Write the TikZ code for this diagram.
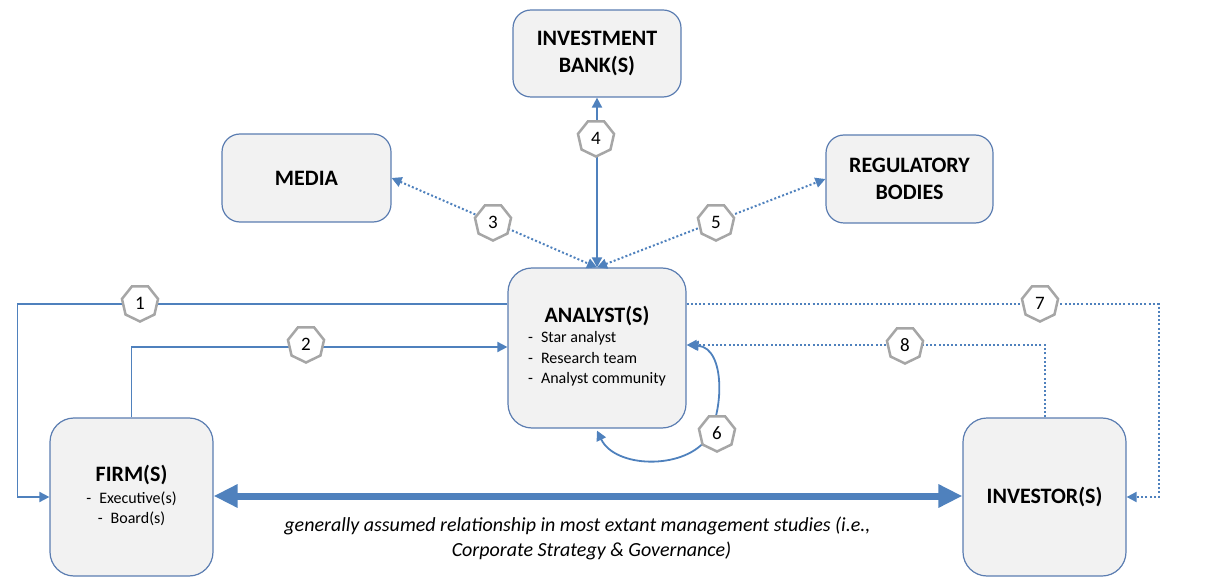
\documentclass[tikz,border=0pt]{standalone}
\usepackage{fontspec}
\setmainfont{Carlito}
\usetikzlibrary{arrows.meta,shapes.geometric,calc}
\definecolor{lineblue}{HTML}{4F81BD}
\definecolor{boxedge}{HTML}{5B7DB1}
\definecolor{boxfill}{HTML}{F2F2F2}
\definecolor{heptgray}{HTML}{A6A6A6}
\begin{document}
\begin{tikzpicture}[x=1pt,y=-1pt,
  box/.style={draw=boxedge,fill=boxfill,rounded corners=18pt,line width=1.2pt,align=center,
    font=\bfseries\fontsize{22}{27}\selectfont,inner sep=0pt},
  conn/.style={draw=lineblue,line width=1.8pt},
  dotconn/.style={draw=lineblue,line width=2pt,dash pattern=on 2pt off 2.2pt},
  hept/.style={regular polygon,regular polygon sides=7,shape border rotate=180,draw=heptgray,
    fill=white,line width=2.5pt,minimum size=37pt,inner sep=0pt,font=\fontsize{19}{19}\selectfont},
  stip/.tip={Triangle[length=10pt,width=10pt]},
  btip/.tip={Triangle[length=24pt,width=22pt]},
  note/.style={font=\itshape\fontsize{20}{22}\selectfont,inner sep=0pt}
]
\useasboundingbox (0,0) rectangle (1226,577);

% boxes
\node[box,minimum width=168pt,minimum height=87pt] (bank) at (597,53.5) {INVESTMENT\\BANK(S)};
\node[box,minimum width=169pt,minimum height=88pt] (media) at (306.5,178) {MEDIA};
\node[box,minimum width=167pt,minimum height=88pt] (reg) at (909.5,179) {REGULATORY\\BODIES};
\node[box,rounded corners=24pt,minimum width=178pt,minimum height=160pt] (analyst) at (597,348)
  {ANALYST(S)\\[2pt]{\normalfont\fontsize{16}{20.5}\selectfont\begin{tabular}{@{}l@{}}-\enspace Star analyst\\-\enspace Research team\\-\enspace Analyst community\end{tabular}}};
\node[box,rounded corners=24pt,minimum width=163pt,minimum height=158pt] (firm) at (131.5,497)
  {FIRM(S)\\[4pt]{\normalfont\fontsize{16}{20}\selectfont\begin{tabular}{@{}c@{}}-\enspace Executive(s)\\-\enspace Board(s)\end{tabular}}};
\node[box,rounded corners=24pt,minimum width=163pt,minimum height=158pt] (investor) at (1044.5,497) {INVESTOR(S)};

% connectors
\draw[conn,-stip] ($(analyst.west)+(0,-44)$) -| ($(firm.west)+(-32,0)$) -- (firm.west);
\draw[conn,-stip] (firm.north) |- ($(analyst.west)+(0,-1)$);
\draw[dotconn,stip-stip] (media.east) -- (analyst.north);
\draw[conn,stip-stip] (bank.south) -- (analyst.north);
\draw[dotconn,stip-stip] (analyst.north) -- (reg.west);
\draw[conn,stip-stip] ($(analyst.south)+(0,2)$) .. controls (615,468) and (682,470) .. (706,440)
   .. controls (724,414) and (726,348) .. ($(analyst.east)+(2,-3)$);
\draw[dotconn,-stip] ($(analyst.east)+(0,-44)$) -| ($(investor.east)+(32,0)$) -- (investor.east);
\draw[dotconn,-stip] (investor.north) |- ($(analyst.east)+(0,-3)$);
\draw[draw=lineblue,line width=7pt,btip-btip] ($(firm.east)+(0,-1)$) -- ($(investor.west)+(0,-1)$);

% labels
\node[hept] (n1) at (140,303) {1};
\node[hept] (n2) at (306,344) {2};
\node[hept] (n3) at (493,222) {3};
\node[hept] (n4) at (596,138) {4};
\node[hept] (n5) at (716,222) {5};
\node[hept] (n6) at (717,433) {6};
\node[hept] (n7) at (1040,303) {7};
\node[hept] (n8) at (905,345) {8};

% note
\node[note] (t1) at (577.5,526) {generally assumed relationship in most extant management studies (i.e.,};
\node[note] (t2) at (591.5,551) {Corporate Strategy \& Governance)};
\end{tikzpicture}
\end{document}
